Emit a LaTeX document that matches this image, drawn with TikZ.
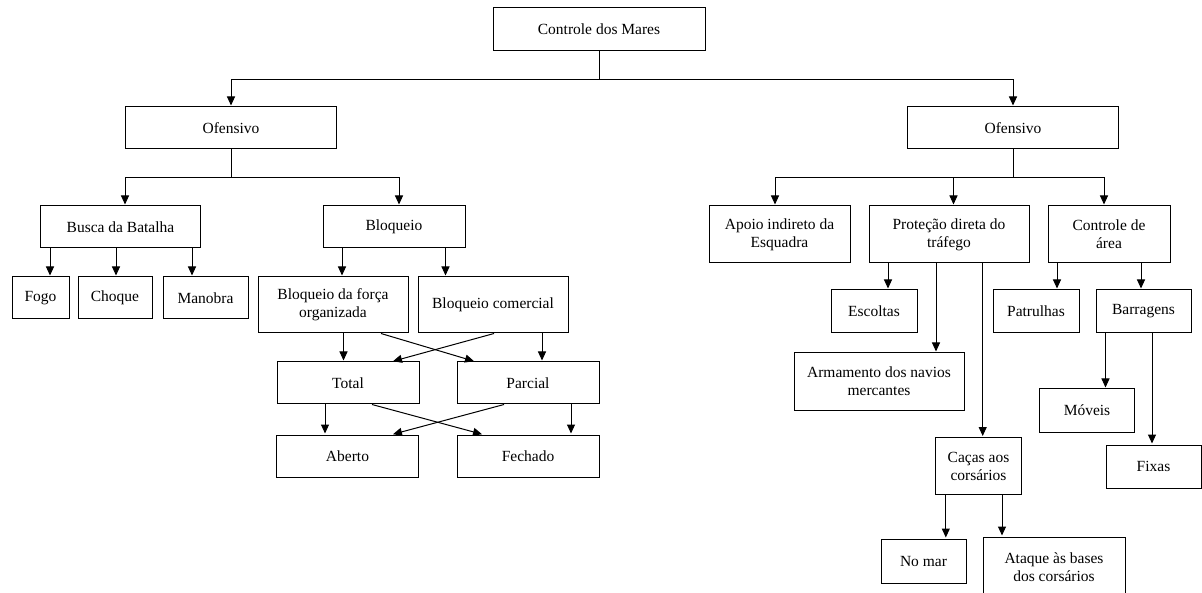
\documentclass[tikz,border=0pt]{standalone}
\usepackage{fontspec}
\setmainfont{Liberation Serif}
\usetikzlibrary{arrows.meta}
\begin{document}
\begin{tikzpicture}[x=1pt,y=-1pt,line width=1pt,shorten >=1pt,>={Triangle[length=9pt,width=8pt]}]
    \tikzstyle{item}=[rectangle,draw,align=center,inner sep=0pt,minimum height=42pt,font=\fontsize{15.5}{18}\selectfont]
    \tikzstyle{tall}=[item,minimum height=57pt]
    \useasboundingbox (0,0) rectangle (1202,593);

    % top node
    \node[item, minimum width=212pt, minimum height=43pt] (Mares) at (599,29.5) {Controle dos Mares};

    % second level nodes
    \node[item, minimum width=211pt] (OfL) at (231,128) {Ofensivo};
    \node[item, minimum width=211pt] (OfR) at (1013,128) {Ofensivo};

    % left branch nodes
    \node[item, minimum width=160pt] (BB) at (120.5,227) {Busca da Batalha};
    \node[item, minimum width=142pt] (Bq) at (394,227) {Bloqueio};
    \node[item, minimum width=57pt] (Fogo) at (40.5,298) {Fogo};
    \node[item, minimum width=74pt] (Choque) at (115,298) {Choque};
    \node[item, minimum width=85pt] (Manobra) at (205.5,298) {Manobra};
    \node[item, minimum width=150pt, minimum height=56pt] (BFO) at (333,305) {Bloqueio da força\\organizada};
    \node[item, minimum width=150pt, minimum height=56pt] (BC) at (493,305) {Bloqueio comercial};
    \node[item, minimum width=142pt] (Total) at (348,383) {Total};
    \node[item, minimum width=142pt] (Parcial) at (528,383) {Parcial};
    \node[item, minimum width=142pt] (Aberto) at (347.5,456) {Aberto};
    \node[item, minimum width=142pt] (Fechado) at (528,456) {Fechado};

    % right branch nodes
    \node[tall, minimum width=141pt] (AIE) at (779.5,234.5) {Apoio indireto da\\Esquadra};
    \node[tall, minimum width=160pt] (PDT) at (949,234.5) {Proteção direta do\\tráfego};
    \node[tall, minimum width=122pt] (CA) at (1109,234.5) {Controle de\\área};
    \node[item, minimum width=86pt, minimum height=43pt] (Esc) at (874,311.5) {Escoltas};
    \node[item, minimum width=86pt, minimum height=43pt] (Pat) at (1036,311.5) {Patrulhas};
    \node[item, minimum width=95pt, minimum height=43pt] (Bar) at (1143.5,311.5) {Barragens};
    \node[tall, minimum width=170pt] (Arm) at (879,381.5) {Armamento dos navios\\mercantes};
    \node[tall, minimum width=86pt] (Cac) at (978.5,466) {Caças aos\\corsários};
    \node[item, minimum width=95pt, minimum height=43pt] (Mov) at (1087,410.5) {Móveis};
    \node[item, minimum width=95pt, minimum height=43pt] (Fix) at (1153.5,466.5) {Fixas};
    \node[item, minimum width=85pt, minimum height=44pt] (NoM) at (923.5,561) {No mar};
    \node[item, minimum width=142pt, minimum height=60pt] (Atq) at (1054,567) {Ataque às bases\\dos corsários};

    % branching from the top and second levels
    \draw[shorten >=0pt] (Mares.south) -- ++(0,28) coordinate (jTop);
    \draw[->] (jTop) -| (OfL.north);
    \draw[->] (jTop) -| (OfR.north);
    \draw[shorten >=0pt] (OfL.south) -- ++(0,28) coordinate (jL);
    \draw[->] (jL) -| ([xshift=4.5pt]BB.north);
    \draw[->] (jL) -| ([xshift=5pt]Bq.north);
    \draw[shorten >=0pt] (OfR.south) -- ++(0,28) coordinate (jR);
    \draw[->] (jR) -| ([xshift=-4.5pt]AIE.north);
    \draw[->] (jR) -| ([xshift=4.5pt]PDT.north);
    \draw[->] (jR) -| ([xshift=-5pt]CA.north);

    % straight arrows from a box down to the box below it
    \foreach \src/\dx/\dst in {BB/-70.5/Fogo, BB/-4.5/Choque, BB/71.5/Manobra,
                               Bq/-52/BFO, Bq/51.5/BC, BFO/10.5/Total, BC/49/Parcial,
                               Total/-23/Aberto, Parcial/43/Fechado,
                               PDT/-61/Esc, PDT/-13/Arm, PDT/33.7/Cac,
                               CA/-52/Pat, CA/32/Bar, Bar/-38/Mov, Bar/8.5/Fix,
                               Cac/-32.7/NoM, Cac/23.5/Atq}
    \draw[->] ([xshift=\dx pt]\src.south) -- ([xshift=\dx pt]\src.south |- \dst.north);

    % crossing arrows
    \draw[->] ([xshift=48pt]BFO.south) -- ([xshift=-53pt]Parcial.north);
    \draw[->] ([xshift=1pt]BC.south) -- ([xshift=44pt]Total.north);
    \draw[->] ([xshift=24pt]Total.south) -- ([xshift=-45pt]Fechado.north);
    \draw[->] ([xshift=-24pt]Parcial.south) -- ([xshift=44.5pt]Aberto.north);
\end{tikzpicture}
\end{document}
